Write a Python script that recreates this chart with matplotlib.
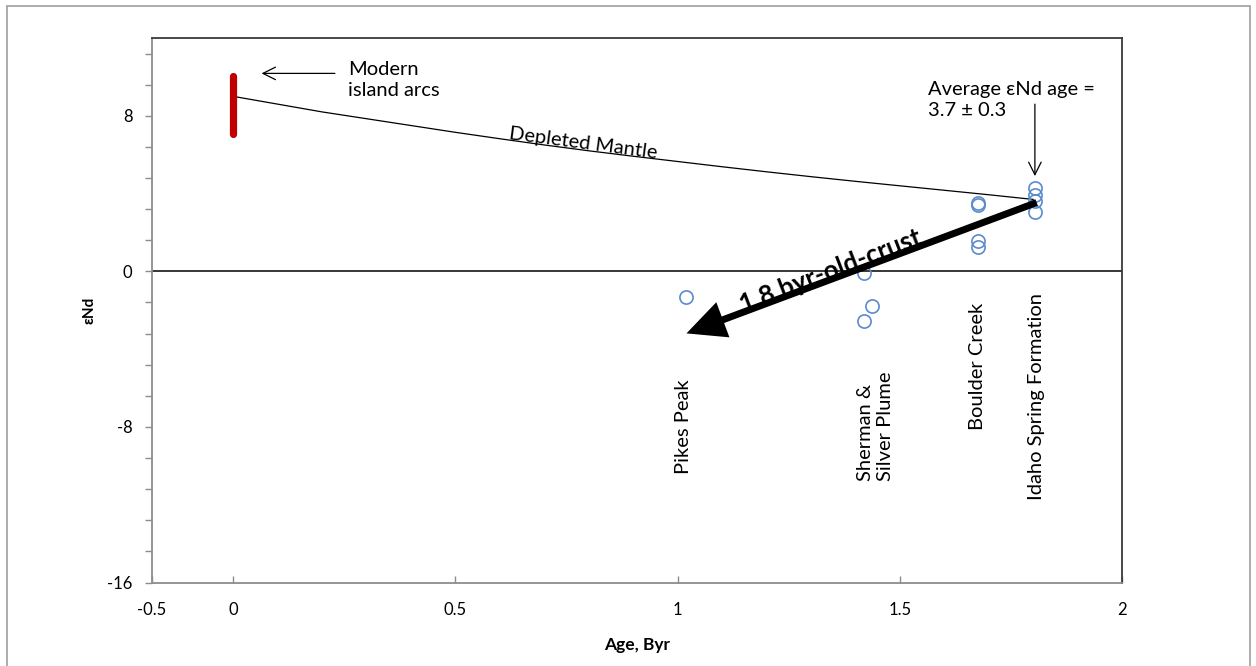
import numpy as np
import matplotlib
matplotlib.use("Agg")
import matplotlib.pyplot as plt
from matplotlib.patches import FancyArrowPatch, Rectangle
from matplotlib.ticker import FixedLocator, MultipleLocator

plt.rcParams['font.family'] = ['Lato', 'DejaVu Sans']

# Depleted mantle evolution curve (age in Byr, epsilon Nd)
dm_age = [0.0, 0.1, 0.2, 0.3, 0.4, 0.5, 0.6, 0.7, 0.8, 0.9,
          1.0, 1.1, 1.2, 1.3, 1.4, 1.5, 1.6, 1.7, 1.8]
dm_end = [9.0, 8.6, 8.2, 7.85, 7.5, 7.15, 6.82, 6.5, 6.2, 5.92,
          5.65, 5.38, 5.12, 4.87, 4.63, 4.4, 4.17, 3.94, 3.7]

# Range of modern island arcs
arc_age = [0.0, 0.0]
arc_end = [7.05, 10.05]

# Colorado Front Range samples
pikes_age = [1.018]
pikes_end = [-1.30]
sherman_age = [1.419, 1.438, 1.419]
sherman_end = [-0.07, -1.79, -2.56]
boulder_age = [1.676, 1.676, 1.676, 1.676]
boulder_end = [3.50, 3.40, 1.56, 1.27]
idaho_age = [1.804, 1.804, 1.804, 1.804]
idaho_end = [4.30, 3.95, 3.60, 3.05]

x_ticks = [-0.5, 0, 0.5, 1, 1.5, 2]
x_tick_labels = ['-0.5', '0', '0.5', '1', '1.5', '2']
y_ticks = [-16, -8, 0, 8]
y_tick_labels = ['-16', '-8', '0', '8']

W, H = 1256, 666
fig = plt.figure(figsize=(W / 100, H / 100), dpi=100)
ax = fig.add_axes([152 / W, 1 - 582.5 / H, (1122 - 152) / W, (582.5 - 38) / H])

# the negative part of the age axis is drawn compressed
NEG = 0.365


def fwd(x):
    x = np.asarray(x, dtype=float)
    return np.where(x < 0, x * NEG, x)


def inv(x):
    x = np.asarray(x, dtype=float)
    return np.where(x < 0, x / NEG, x)


ax.set_xscale('function', functions=(fwd, inv))
ax.set_xlim(-0.5, 2)
ax.set_ylim(-16, 12)

ax.xaxis.set_major_locator(FixedLocator(x_ticks))
ax.set_xticklabels(x_tick_labels)
ax.xaxis.set_minor_locator(FixedLocator([]))
ax.yaxis.set_major_locator(FixedLocator(y_ticks))
ax.set_yticklabels(y_tick_labels)
ax.yaxis.set_minor_locator(MultipleLocator(1.6))

ax.tick_params(axis='x', which='major', direction='in', length=5, width=1,
               color='#8c8c8c', labelsize=12, pad=14)
ax.tick_params(axis='y', which='both', direction='out', length=5, width=1,
               color='#8c8c8c', labelsize=12, pad=9)

for side in ('left', 'bottom'):
    ax.spines[side].set_color('#8c8c8c')
    ax.spines[side].set_linewidth(1.3)
for side in ('top', 'right'):
    ax.spines[side].set_color('#3a3a3a')
    ax.spines[side].set_linewidth(1.3)

ax.axhline(0, color='black', lw=1.1, zorder=2)

# depleted mantle curve and island arc range
ax.plot(dm_age, dm_end, color='black', lw=0.9, zorder=3)
ax.plot(arc_age, arc_end, color='#c00000', lw=5.2, solid_capstyle='round', zorder=4)

blue = '#5b8bcb'
for xs, ys in ((pikes_age, pikes_end), (sherman_age, sherman_end),
               (boulder_age, boulder_end), (idaho_age, idaho_end)):
    ax.plot(xs, ys, linestyle='none', marker='o', ms=9.5, mfc='none',
            mec=blue, mew=1.2, zorder=5)

# crustal evolution arrow
crust_start = (1.808, 3.54)
crust_end = (1.020, -3.19)
ax.text(1.345, 0.0, '1.8 byr-old-crust', fontsize=18.5, fontweight='bold',
        rotation=21, rotation_mode='anchor', ha='center', va='center', zorder=6)
ax.add_patch(FancyArrowPatch(crust_start, crust_end,
                             arrowstyle='simple,head_length=28,head_width=27,tail_width=5',
                             mutation_scale=1, shrinkA=0, shrinkB=0,
                             color='black', lw=0, zorder=7))

# annotations
ax.annotate('', xy=(0.064, 10.18), xytext=(0.229, 10.18),
            arrowprops=dict(arrowstyle='->,head_length=0.9,head_width=0.45',
                            color='black', lw=0.9, shrinkA=0, shrinkB=0))
ax.text(0.259, 9.0, 'Modern\nisland arcs', fontsize=14.5, ha='left', va='baseline',
        linespacing=1.3)

ax.annotate('', xy=(1.804, 4.9), xytext=(1.804, 8.6),
            arrowprops=dict(arrowstyle='->,head_length=0.9,head_width=0.45',
                            color='black', lw=0.9, shrinkA=0, shrinkB=0))
ax.text(1.563, 8.0, 'Average εNd age =\n3.7 ± 0.3', fontsize=14.5, ha='left',
        va='baseline', linespacing=1.3)

ax.text(0.787, 6.6, 'Depleted Mantle', fontsize=14.5, rotation=-7.5,
        rotation_mode='anchor', ha='center', va='center')

# locality labels
ax.text(1.014, -10.40, 'Pikes Peak', fontsize=14.5, rotation=90, ha='center', va='bottom')
ax.text(1.445, -10.79, 'Sherman &\nSilver Plume', fontsize=14.5, rotation=90,
        ha='center', va='bottom', multialignment='left', linespacing=1.25)
ax.text(1.674, -8.14, 'Boulder Creek', fontsize=14.5, rotation=90, ha='center', va='bottom')
ax.text(1.808, -11.74, 'Idaho Spring Formation', fontsize=14.5, rotation=90,
        ha='center', va='bottom')

ax.set_xlabel('Age, Byr', fontsize=12.5, fontweight='bold', labelpad=14)
ax.set_ylabel('εNd', fontsize=11, fontweight='bold', labelpad=8)

# chart frame
fig.add_artist(Rectangle((7 / W, -0.05), (1250 - 7) / W, 1.05 - 6 / H,
                         transform=fig.transFigure, fill=False,
                         ec='#a6a6a6', lw=1.3, clip_on=False))

fig.savefig('out.png', dpi=100)
